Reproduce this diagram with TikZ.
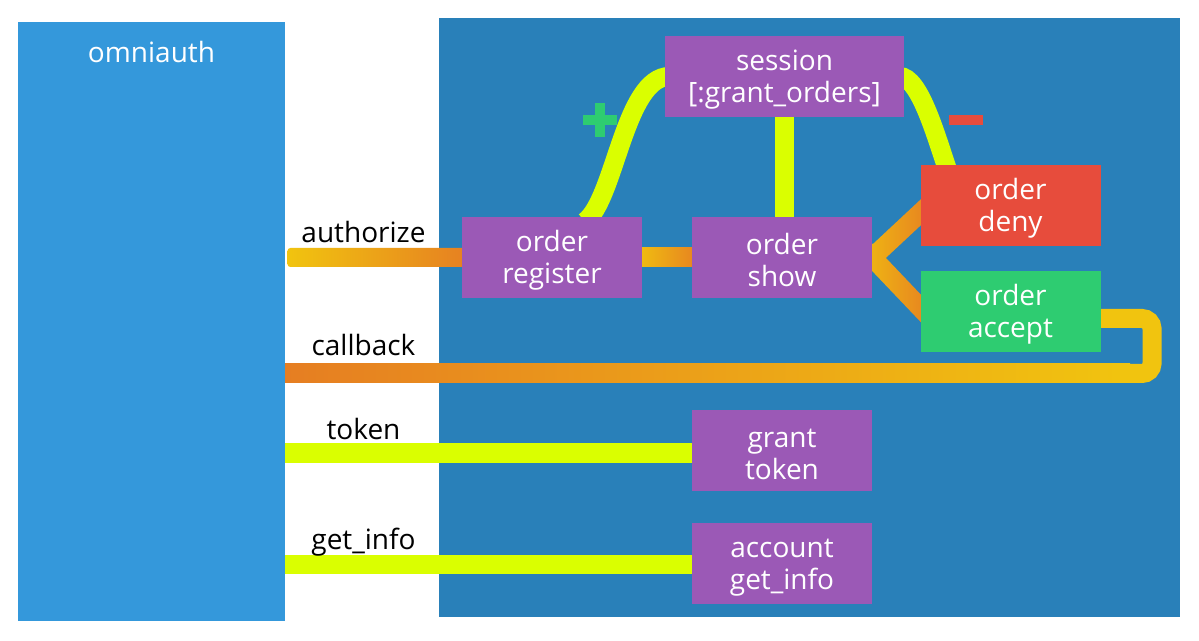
\documentclass[tikz,border=0pt]{standalone}
\usepackage{fontspec}
\setmainfont{Open Sans}
\usetikzlibrary{calc,positioning}
\definecolor{clrSky}{HTML}{3498DB}
\definecolor{clrSea}{HTML}{2980B9}
\definecolor{clrPur}{HTML}{9B59B6}
\definecolor{clrRed}{HTML}{E74C3C}
\definecolor{clrGrn}{HTML}{2ECC71}
\definecolor{clrYel}{HTML}{F1C40F}
\definecolor{clrOra}{HTML}{E67E22}
\definecolor{clrLim}{RGB}{218,255,0}
\pgfdeclarelayer{back}
\pgfdeclarelayer{wires}
\pgfsetlayers{back,wires,main}
\tikzset{
  box/.style={fill=clrPur, text=white, minimum width=90pt, minimum height=40.5pt,
    align=center, inner sep=0pt},
  lbl/.style={anchor=base, text=black},
  wire/.style={line width=9.5pt},
}
% two lines of box text, pushed a little down
\newcommand{\twol}[2]{\rule{0pt}{13.4pt}#1\\#2}
% shaded slanted wire from #1 to #2
\newcommand{\slab}[2]{%
  \shade[left color=clrYel, right color=clrOra]
    ($(#1)!4.75pt!90:(#2)$) -- ($(#2)!4.75pt!-90:(#1)$) --
    ($(#2)!4.75pt!90:(#1)$) -- ($(#1)!4.75pt!-90:(#2)$) -- cycle;}

\begin{document}
\begin{tikzpicture}[x=0.5pt,y=-0.5pt,font=\fontsize{14}{16}\selectfont]
  \useasboundingbox (0,0) rectangle (1199,641);
  \begin{pgfonlayer}{back}
    \fill[white] (0,0) rectangle (1199,641);
    \fill[clrSea] (439,18) rectangle (1180,617);
    \node[fill=clrSky, minimum width=133.5pt, minimum height=299.5pt, inner sep=0pt] (omni) at (151.5,321.5) {};
    \node[text=white] (omnilab) at (151.5,52) {omniauth};
  \end{pgfonlayer}

  % boxes
  \node[box, minimum width=119.5pt] (sess) at (784.5,76.5) {\twol{session}{{[:grant\_orders]}}};
  \node[box] (reg) at (552,257.5) {\twol{order}{register}};
  \node[box] (show) at (782,257.5) {\twol{order}{show}};
  \node[box, fill=clrRed] (deny) at (1010.5,205.5) {\twol{order}{deny}};
  \node[box, fill=clrGrn] (accept) at (1010.5,311.5) {\twol{order}{accept}};
  \node[box] (grant) at (782,450.5) {\twol{grant}{token}};
  \node[box] (acct) at (782,563) {\twol{account}{get\_info}};

  % call labels
  \node[lbl] (authlab) at (363.5,243) {authorize};
  \node[lbl] (cblab) at (363.5,356) {callback};
  \node[lbl] (toklab) at (363.5,439) {token};
  \node[lbl] (infolab) at (363.5,549) {get\_info};

  % plus / minus
  \fill[clrGrn] (583,115) rectangle (617,125);
  \fill[clrGrn] (595,103) rectangle (605,137);
  \fill[clrRed] (949,115) rectangle (983,125);

  \begin{pgfonlayer}{wires}
    % authorize
    \shade[left color=clrYel, right color=clrOra, rounded corners=1.5pt]
      ($(omni.east |- reg.west)+(2,-9.5)$) rectangle ($(reg.west)+(10,9.5)$);
    \shade[left color=clrYel, right color=clrOra]
      ($(reg.east)+(-10,-9.5)$) rectangle ($(show.west)+(10,9.5)$);
    % show -> deny / accept
    \coordinate (vU1) at ($(deny.west)+(8,0)$);
    \coordinate (vL1) at ($(accept.west)+(8,4.5)$);
    \coordinate (vU0) at ($(show.east)!-12pt!(vU1)$);
    \coordinate (vL0) at ($(show.east)!-12pt!(vL1)$);
    \slab{vU0}{vU1}
    \slab{vL0}{vL1}
    % callback
    \coordinate (cbL) at (285,373.5);
    \coordinate (cbR) at (1152,373.5);
    \shade[left color=clrOra, right color=clrYel]
      ($(cbL)+(0,-9.5)$) rectangle ($(cbR)+(-22,9.5)$);
    \draw[wire, clrYel, rounded corners=5pt]
      ($(cbR)+(-32,0)$) -- (cbR) |- ($(accept.east)+(-10,7)$);
    % session
    \draw[wire, clrLim] (sess.south) -- (sess.south |- show.north);
    \draw[wire, clrLim] ($(reg.north)+(33,5)$) .. controls +(30,-22) and +(-45,0) .. ($(sess.west)+(5,0)$);
    \draw[wire, clrLim] ($(sess.east)+(-5,0)$) .. controls +(20,0) and +(-12,-35) .. ($(deny.north)+(-63,5)$);
    % token / get_info
    \draw[wire, clrLim] ($(omni.east |- grant.west)+(0,2.5)$) -- ($(grant.west)+(5,2.5)$);
    \draw[wire, clrLim] ($(omni.east |- acct.west)+(0,1.5)$) -- ($(acct.west)+(5,1.5)$);
  \end{pgfonlayer}
\end{tikzpicture}
\end{document}
